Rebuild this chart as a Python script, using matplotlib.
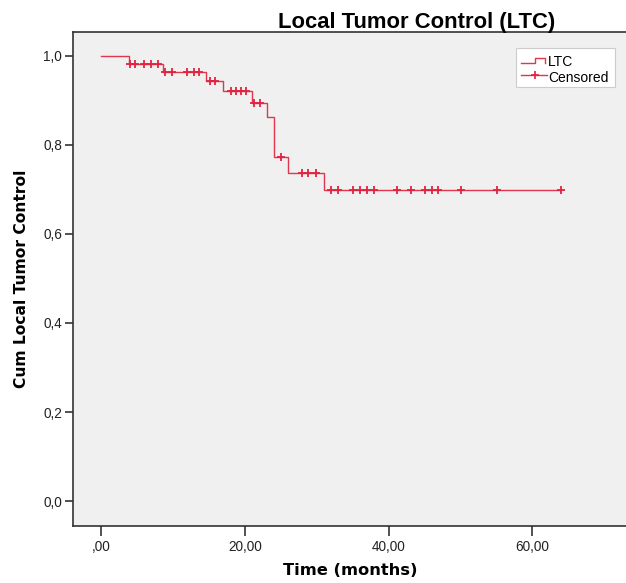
import matplotlib
matplotlib.use('Agg')
import matplotlib.pyplot as plt
from matplotlib.ticker import FuncFormatter
import numpy as np

# Kaplan-Meier steps
step_times = [0, 3.9, 8.6, 14.6, 17.0, 21.0, 23.0, 24.0, 26.0, 31.0]
surv = [1.0, 0.981, 0.964, 0.944, 0.921, 0.894, 0.862, 0.772, 0.737, 0.698]
end_time = 64.0

censored_times = [4.0, 4.7, 5.9, 6.9, 7.9,
                  8.9, 9.9, 12.0, 12.9, 13.6,
                  15.2, 15.9,
                  18.0, 18.7, 19.4, 20.1,
                  21.2, 22.1,
                  25.0,
                  27.9, 28.8, 29.9,
                  32.0, 32.9, 35.0, 36.0, 37.0, 38.0, 41.1, 43.1, 45.1,
                  46.0, 46.9, 50.1, 55.1, 64.0]

x_ticks = [0, 20, 40, 60]
y_ticks = [0.0, 0.2, 0.4, 0.6, 0.8, 1.0]

C_LINE = '#E0374F'
C_CENS = '#E2223F'
C_BG = '#F0F0F0'
C_AX = '#333333'

plt.rcParams.update({
    'font.family': ['Liberation Sans', 'DejaVu Sans'],
    'font.size': 9.5,
})

fig = plt.figure(figsize=(6.26, 5.83), dpi=100)
ax = fig.add_axes([0.117, 0.0983, 0.886, 0.846])
ax.set_facecolor(C_BG)

# step curve
xs = list(step_times) + [end_time]
ys = list(surv) + [surv[-1]]
ax.step(xs, ys, where='post', color=C_LINE, lw=1.0)

# censored marks on the curve
idx = np.searchsorted(step_times, censored_times, side='right') - 1
cens_y = np.array(surv)[idx]
ax.plot(censored_times, cens_y, '+', color=C_CENS, ms=6, mew=1.3, ls='none')

ax.set_xlim(-3.9, 73.3)
ax.set_ylim(-0.055, 1.052)
ax.set_xticks(x_ticks)
ax.set_yticks(y_ticks)
ax.xaxis.set_major_formatter(FuncFormatter(
    lambda v, p: ',00' if v == 0 else f'{v:.2f}'.replace('.', ',')))
ax.yaxis.set_major_formatter(FuncFormatter(
    lambda v, p: f'{v:.1f}'.replace('.', ',')))
ax.tick_params(direction='out', length=6, width=1.2, color=C_AX,
               labelsize=9.8, labelcolor='#222222', pad=2)
ax.tick_params(axis='x', length=7, pad=3)

for s in ['left', 'bottom', 'top']:
    ax.spines[s].set_color(C_AX)
    ax.spines[s].set_linewidth(1.2)
ax.spines['right'].set_visible(False)

ax.set_xlabel('Time (months)', fontsize=11.7, fontweight='bold',
              family='DejaVu Sans', labelpad=7)
ax.set_ylabel('Cum Local Tumor Control', fontsize=11.2, fontweight='bold',
              family='DejaVu Sans', labelpad=10)

fig.text(417 / 626, 1 - 28.3 / 583, 'Local Tumor Control (LTC)', ha='center',
         va='baseline', fontsize=15.8, fontweight='bold')

# legend drawn by hand (SPSS style)
leg = plt.Rectangle((0.799, 0.889), 0.177, 0.079, transform=ax.transAxes,
                    facecolor='white', edgecolor='#CCCCCC', lw=0.8, zorder=5)
ax.add_patch(leg)
ax.plot([0.808, 0.832, 0.832, 0.850, 0.850],
        [0.938, 0.938, 0.949, 0.949, 0.938], transform=ax.transAxes,
        color=C_LINE, lw=1.0, zorder=6)
ax.plot([0.808, 0.855], [0.9144, 0.9144], transform=ax.transAxes,
        color=C_LINE, lw=1.0, zorder=6)
ax.plot([0.832], [0.9144], '+', transform=ax.transAxes, color=C_CENS,
        ms=6, mew=1.2, zorder=6)
ax.text(0.856, 0.9396, 'LTC', transform=ax.transAxes, va='center',
        fontsize=10, zorder=7)
ax.text(0.856, 0.908, 'Censored', transform=ax.transAxes, va='center',
        fontsize=10, zorder=7)

fig.savefig('out.png', dpi=100)
